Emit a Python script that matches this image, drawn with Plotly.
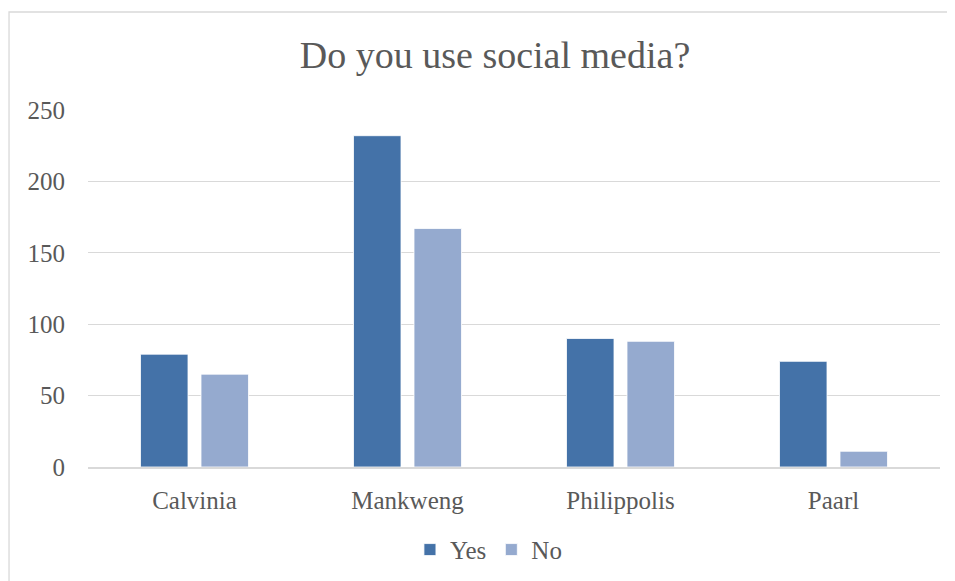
import plotly.graph_objects as go

categories = ["Calvinia", "Mankweng", "Philippolis", "Paarl"]
yes_values = [79, 232, 90, 74]
no_values = [65, 167, 88, 11]
y_ticks = [0, 50, 100, 150, 200, 250]

FONT = "Liberation Serif"
TXT = "#595959"

fig = go.Figure()
fig.add_trace(go.Bar(name="Yes", x=categories, y=yes_values, marker_color="#4472a8",
                     marker_line=dict(color="white", width=0.8)))
fig.add_trace(go.Bar(name="No", x=categories, y=no_values, marker_color="#95aacf",
                     marker_line=dict(color="white", width=0.8)))

fig.update_layout(
    width=955, height=581,
    barmode="group", bargap=0.432, bargroupgap=0.215,
    plot_bgcolor="white", paper_bgcolor="white",
    margin=dict(l=80, r=23, t=102, b=122),
    title=dict(text="Do you use social media?", x=0.51, xanchor="center",
               y=0.919, yanchor="middle",
               font=dict(family=FONT, size=38, color=TXT)),
    font=dict(family=FONT, size=25, color=TXT),
    legend=dict(orientation="h", x=0.47, xanchor="center", y=-0.232, yanchor="middle",
                font=dict(size=25, color=TXT), itemwidth=30, traceorder="normal"),
    showlegend=True,
)
fig.update_yaxes(range=[0, 250], tickvals=y_ticks, showgrid=True, gridcolor="#d9d9d9",
                 gridwidth=1.3, zeroline=False, showline=False, ticks="",
                 ticklabelstandoff=22, tickfont=dict(size=25, color=TXT))
fig.update_xaxes(showline=True, linecolor="#d9d9d9", linewidth=1.5, ticks="",
                 tickfont=dict(size=25, color=TXT), ticklabelstandoff=10)

fig.add_shape(type="rect", xref="paper", yref="paper",
              x0=-0.0927, x1=1.1, y0=-0.5, y1=1.2745,
              line=dict(color="#d9d9d9", width=1.3), layer="below")

fig.write_html("out.html")
